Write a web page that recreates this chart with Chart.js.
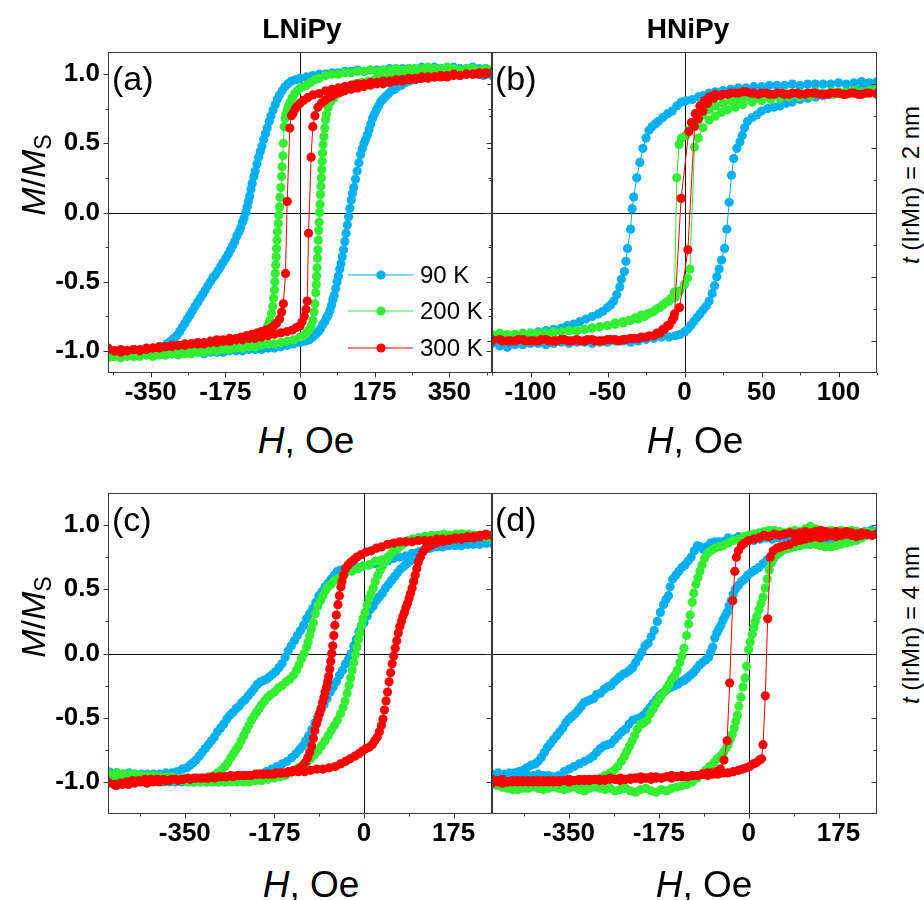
<!DOCTYPE html>
<html><head><meta charset="utf-8">
<script src="https://cdn.jsdelivr.net/npm/chart.js@4.4.0/dist/chart.umd.min.js"></script>
<style>
html,body{margin:0;padding:0;background:#fff;}
#wrap{position:relative;width:924px;height:900px;overflow:hidden;font-family:"Liberation Sans",Arial,sans-serif;color:#000;}
canvas{position:absolute;}
.t{position:absolute;white-space:nowrap;line-height:1;text-align:center;}
.r{transform:rotate(-90deg);transform-origin:50% 50%;}
sub{font-size:0.68em;vertical-align:-0.25em;font-style:normal;}
</style></head><body><div id="wrap">
<canvas id="ca" width="500" height="388" style="left:0;top:22px;width:500px;height:388px"></canvas>
<canvas id="cb" width="400" height="388" style="left:484px;top:22px;width:400px;height:388px"></canvas>
<canvas id="cc" width="500" height="388" style="left:0;top:463px;width:500px;height:388px"></canvas>
<canvas id="cd" width="400" height="388" style="left:484px;top:463px;width:400px;height:388px"></canvas>

<div class="t" style="left:202px;top:15px;width:200px;font-size:28px;font-weight:bold;">LNiPy</div>
<div class="t" style="left:588px;top:15px;width:200px;font-size:28px;font-weight:bold;">HNiPy</div>

<div class="t" style="left:112px;top:61px;font-size:34px;text-align:left;">(a)</div>
<div class="t" style="left:495px;top:61px;font-size:34px;text-align:left;">(b)</div>
<div class="t" style="left:112px;top:502px;font-size:34px;text-align:left;">(c)</div>
<div class="t" style="left:495px;top:502px;font-size:34px;text-align:left;">(d)</div>

<div class="t" style="left:156px;top:422px;width:300px;font-size:37px;"><i>H</i>, Oe</div>
<div class="t" style="left:545px;top:422px;width:300px;font-size:37px;"><i>H</i>, Oe</div>
<div class="t" style="left:161px;top:866px;width:300px;font-size:37px;"><i>H</i>, Oe</div>
<div class="t" style="left:554px;top:866px;width:300px;font-size:37px;"><i>H</i>, Oe</div>

<div class="t r" style="left:-67px;top:158px;width:200px;height:34px;font-size:34px;"><i>M</i>/<i>M</i><sub>S</sub></div>
<div class="t r" style="left:-67px;top:600px;width:200px;height:34px;font-size:34px;"><i>M</i>/<i>M</i><sub>S</sub></div>

<div class="t r" style="left:811px;top:173px;width:200px;height:24px;font-size:24px;"><i>t</i> (IrMn) = 2 nm</div>
<div class="t r" style="left:811px;top:613px;width:200px;height:24px;font-size:24px;"><i>t</i> (IrMn) = 4 nm</div>
</div>
<script>
// ---------- tick labels ----------
const xTickA = [-350, -175, 0, 175, 350];
const xMinorA = [-437.5, -262.5, -87.5, 87.5, 262.5, 437.5];
const xTickB = [-100, -50, 0, 50, 100];
const xMinorB = [-125, -75, -25, 25, 75, 125];
const xTickCD = [-350, -175, 0, 175];
const xMinorCD = [-437.5, -262.5, -87.5, 87.5];
const yTick = [-1.0, -0.5, 0.0, 0.5, 1.0];
const yTickLabels = ['-1.0', '-0.5', '0.0', '0.5', '1.0'];
const yMinor = [-0.75, -0.25, 0.25, 0.75];
const seriesLabels = ['90 K', '200 K', '300 K'];

// ---------- panel (a): LNiPy, t = 2 nm  (H, M pairs; descending then ascending branch) ----------
const a90Down = [450,1.03,435,1.04,420,1.04,405,1.05,390,1.04,375,1.04,360,1.05,345,1.04,330,1.04,315,1.05,300,1.04,285,1.05,270,1.04,255,1.04,240,1.04,225,1.03,210,1.04,195,1.03,180,1.03,165,1.03,150,1.02,135,1.03,120,1.02,105,1.02,90,1.01,75,1.01,60,1.0,45,1.0,30,0.99,15,0.98,0,0.97,-10,0.96,-20,0.95,-28,0.93,-35,0.91,-42,0.88,-48,0.85,-53,0.82,-58,0.78,-63,0.74,-68,0.70,-72,0.66,-77,0.61,-81,0.57,-85,0.53,-89,0.48,-93,0.44,-97,0.40,-101,0.35,-105,0.30,-108,0.26,-112,0.21,-115,0.17,-118,0.12,-121,0.08,-124,0.04,-127,0.0,-131,-0.04,-135,-0.07,-139,-0.11,-143,-0.14,-148,-0.17,-153,-0.21,-158,-0.24,-163,-0.27,-168,-0.30,-174,-0.33,-180,-0.36,-186,-0.39,-192,-0.42,-198,-0.45,-204,-0.47,-210,-0.50,-216,-0.53,-222,-0.56,-228,-0.59,-234,-0.62,-240,-0.65,-246,-0.68,-252,-0.71,-258,-0.74,-264,-0.77,-270,-0.80,-276,-0.83,-282,-0.86,-289,-0.89,-296,-0.91,-303,-0.93,-312,-0.95,-322,-0.97,-334,-0.98,-348,-0.99,-362,-1.0,-377,-1.0,-392,-1.01,-407,-1.0,-422,-1.01,-437,-1.01,-450,-1.01];
const a90Up = [-450,-1.02,-435,-1.03,-420,-1.02,-405,-1.02,-390,-1.03,-375,-1.02,-360,-1.03,-345,-1.02,-330,-1.02,-315,-1.03,-300,-1.02,-285,-1.02,-270,-1.02,-255,-1.02,-240,-1.01,-225,-1.02,-210,-1.01,-195,-1.01,-180,-1.01,-165,-1.0,-150,-1.0,-135,-1.0,-120,-0.99,-105,-0.99,-90,-0.99,-75,-0.98,-60,-0.98,-45,-0.97,-30,-0.96,-15,-0.95,0,-0.94,12,-0.93,22,-0.92,30,-0.90,37,-0.88,43,-0.86,48,-0.84,53,-0.81,58,-0.79,62,-0.76,66,-0.74,70,-0.71,74,-0.67,77,-0.63,80,-0.60,84,-0.55,87,-0.50,90,-0.46,93,-0.41,96,-0.37,99,-0.32,102,-0.27,105,-0.21,108,-0.15,111,-0.09,114,-0.03,117,0.03,120,0.09,123,0.14,126,0.18,130,0.24,134,0.30,138,0.36,142,0.42,146,0.46,150,0.50,154,0.53,158,0.56,162,0.60,166,0.64,170,0.68,174,0.71,179,0.74,184,0.77,189,0.80,195,0.82,201,0.84,208,0.86,214,0.88,222,0.89,230,0.91,238,0.92,247,0.94,257,0.95,268,0.97,280,0.97,295,0.98,310,0.99,325,0.99,340,0.99,355,1.0,370,1.0,385,1.0,400,1.01,415,1.0,430,0.99,450,0.99];
const a200Down = [450,1.03,435,1.04,420,1.03,405,1.04,390,1.04,375,1.03,360,1.04,345,1.05,330,1.04,315,1.04,300,1.05,285,1.04,270,1.04,255,1.04,240,1.03,225,1.04,210,1.03,195,1.03,180,1.02,165,1.03,150,1.02,135,1.02,120,1.01,105,1.01,90,1.0,75,1.0,60,0.99,45,0.97,35,0.96,25,0.94,15,0.92,8,0.91,0,0.90,-6,0.88,-12,0.86,-18,0.83,-23,0.80,-27,0.77,-30,0.74,-33,0.71,-35,0.68,-37,0.62,-39,0.50,-40,0.41,-42,0.33,-43,0.26,-45,0.18,-47,0.11,-48,0.04,-50,-0.02,-51,-0.08,-53,-0.14,-54,-0.20,-55,-0.26,-56,-0.32,-57,-0.38,-58,-0.44,-59,-0.50,-60,-0.56,-62,-0.62,-64,-0.68,-67,-0.73,-71,-0.78,-76,-0.82,-82,-0.86,-90,-0.88,-100,-0.90,-112,-0.92,-125,-0.93,-140,-0.94,-155,-0.95,-170,-0.95,-185,-0.96,-200,-0.97,-215,-0.97,-230,-0.98,-245,-0.99,-260,-0.99,-275,-1.0,-290,-1.0,-305,-1.01,-320,-1.01,-335,-1.02,-350,-1.02,-365,-1.02,-380,-1.03,-395,-1.03,-410,-1.03,-425,-1.04,-440,-1.04,-450,-1.04];
const a200Up = [-450,-1.05,-435,-1.04,-420,-1.05,-405,-1.04,-390,-1.04,-375,-1.04,-360,-1.03,-345,-1.04,-330,-1.03,-315,-1.03,-300,-1.02,-285,-1.03,-270,-1.02,-255,-1.02,-240,-1.01,-225,-1.01,-210,-1.0,-195,-1.0,-180,-0.99,-165,-0.99,-150,-0.98,-135,-0.98,-120,-0.97,-105,-0.97,-90,-0.96,-75,-0.95,-60,-0.95,-45,-0.94,-30,-0.93,-15,-0.92,0,-0.90,8,-0.89,15,-0.87,21,-0.85,26,-0.82,30,-0.78,33,-0.72,35,-0.66,37,-0.58,38,-0.52,39,-0.46,40,-0.40,41,-0.33,42,-0.27,43,-0.20,44,-0.13,45,-0.07,46,0.0,47,0.06,48,0.13,49,0.19,50,0.25,51,0.31,52,0.37,53,0.43,54,0.49,56,0.55,58,0.61,60,0.67,62,0.71,66,0.76,72,0.80,80,0.83,90,0.86,102,0.89,115,0.91,130,0.93,145,0.94,160,0.95,175,0.96,190,0.97,205,0.97,220,0.98,235,0.99,250,0.99,265,1.0,280,1.0,295,1.01,310,1.01,325,1.02,340,1.01,355,1.02,370,1.02,385,1.02,400,1.03,415,1.02,430,1.03,450,1.03];
const a300Down = [450,1.01,435,1.0,420,1.01,405,1.0,390,1.0,375,0.99,360,1.0,345,0.99,330,0.99,315,0.98,300,0.98,285,0.98,270,0.97,255,0.97,240,0.96,225,0.96,210,0.95,195,0.95,180,0.94,165,0.94,150,0.93,135,0.93,120,0.92,105,0.91,90,0.90,75,0.89,60,0.88,45,0.86,30,0.85,18,0.83,8,0.81,0,0.79,-6,0.77,-11,0.75,-16,0.72,-20,0.70,-24,0.61,-30,0.08,-34,-0.44,-39,-0.66,-43,-0.72,-48,-0.77,-55,-0.80,-62,-0.82,-70,-0.84,-80,-0.85,-90,-0.86,-100,-0.87,-112,-0.88,-125,-0.89,-138,-0.90,-150,-0.91,-165,-0.91,-180,-0.92,-195,-0.92,-210,-0.93,-225,-0.94,-240,-0.94,-255,-0.95,-270,-0.95,-285,-0.96,-300,-0.96,-315,-0.97,-330,-0.97,-345,-0.98,-360,-0.98,-375,-0.99,-390,-0.99,-405,-1.0,-420,-0.99,-435,-1.0,-450,-0.98];
const a300Up = [-450,-0.99,-435,-1.0,-420,-1.01,-405,-1.0,-390,-0.99,-375,-1.0,-360,-0.99,-345,-0.98,-330,-0.98,-315,-0.97,-300,-0.97,-285,-0.96,-270,-0.96,-255,-0.95,-240,-0.95,-225,-0.95,-210,-0.94,-195,-0.94,-180,-0.93,-165,-0.93,-150,-0.92,-135,-0.92,-120,-0.91,-105,-0.91,-90,-0.90,-75,-0.89,-60,-0.88,-45,-0.87,-30,-0.86,-18,-0.85,-8,-0.83,0,-0.82,5,-0.79,10,-0.75,14,-0.70,17,-0.64,20,-0.15,26,0.40,30,0.62,35,0.70,42,0.76,50,0.79,58,0.81,66,0.83,75,0.84,85,0.86,95,0.87,105,0.88,120,0.89,135,0.90,150,0.91,165,0.92,180,0.93,195,0.93,210,0.94,225,0.95,240,0.95,255,0.96,270,0.96,285,0.97,300,0.97,315,0.98,330,0.98,345,0.98,360,0.99,375,0.99,390,1.0,405,1.0,420,1.0,435,1.01,450,1.01];

// ---------- panel (b): HNiPy, t = 2 nm ----------
const b90Down = [125,1.02,120,1.01,115,1.02,110,1.01,105,1.0,100,1.01,95,1.0,90,1.0,85,1.0,80,1.0,75,0.99,70,1.0,65,0.99,60,0.99,55,0.99,50,0.98,45,0.98,40,0.97,35,0.97,30,0.96,25,0.95,20,0.94,16,0.93,12,0.91,9,0.90,5,0.88,1,0.87,-2,0.86,-5,0.83,-8,0.79,-11,0.77,-14,0.74,-17,0.71,-19,0.69,-21,0.67,-23,0.64,-25,0.58,-27,0.50,-29,0.39,-31,0.27,-33,0.12,-34,0.03,-35,-0.13,-37,-0.28,-38,-0.38,-39,-0.46,-41,-0.52,-42,-0.58,-44,-0.64,-46,-0.69,-48,-0.72,-50,-0.74,-53,-0.77,-56,-0.79,-60,-0.81,-64,-0.83,-68,-0.85,-72,-0.87,-76,-0.88,-80,-0.90,-85,-0.91,-90,-0.92,-95,-0.93,-100,-0.94,-105,-0.95,-110,-0.96,-115,-0.97,-120,-0.97,-125,-0.98];
const b90Up = [-125,-1.02,-120,-1.04,-115,-1.05,-110,-1.03,-105,-1.03,-100,-1.02,-95,-1.02,-90,-1.03,-85,-1.02,-80,-1.01,-75,-1.02,-70,-1.01,-65,-1.01,-60,-1.02,-55,-1.01,-50,-1.01,-45,-1.0,-40,-1.0,-35,-1.01,-30,-1.0,-25,-0.99,-20,-0.98,-15,-0.97,-10,-0.97,-6,-0.96,-3,-0.95,0,-0.93,2,-0.91,4,-0.88,6,-0.85,8,-0.82,10,-0.79,12,-0.76,14,-0.73,16,-0.69,18,-0.63,19.5,-0.57,21,-0.50,22.5,-0.44,24,-0.37,26,-0.28,27.5,-0.13,29,0.08,30.5,0.29,32,0.42,34,0.50,36,0.55,37.5,0.60,39,0.66,41,0.71,44,0.74,47,0.76,50,0.79,54,0.81,58,0.82,62,0.83,66,0.85,70,0.86,75,0.88,80,0.89,85,0.90,90,0.91,95,0.92,100,0.93,105,0.94,110,0.96,115,0.97,120,0.98,125,0.99];
const b200Down = [125,0.96,120,0.95,115,0.94,110,0.95,105,0.94,100,0.94,95,0.94,90,0.93,85,0.94,80,0.93,75,0.93,70,0.92,65,0.93,60,0.92,55,0.91,50,0.91,45,0.90,40,0.89,35,0.88,30,0.87,25,0.85,20,0.83,16,0.80,12,0.76,9,0.72,6,0.68,3,0.64,1,0.60,-2,0.58,-3.5,0.53,-5,0.27,-6.5,-0.62,-9,-0.67,-12,-0.70,-16,-0.74,-20,-0.77,-24,-0.79,-28,-0.80,-32,-0.82,-36,-0.84,-40,-0.85,-45,-0.86,-50,-0.88,-55,-0.89,-60,-0.90,-65,-0.91,-70,-0.92,-75,-0.92,-80,-0.93,-85,-0.93,-90,-0.94,-95,-0.94,-100,-0.95,-105,-0.94,-110,-0.95,-115,-0.95,-120,-0.94,-125,-0.95];
const b200Up = [-125,-0.96,-120,-0.95,-115,-0.96,-110,-0.95,-105,-0.95,-100,-0.94,-95,-0.95,-90,-0.94,-85,-0.93,-80,-0.93,-75,-0.92,-70,-0.92,-65,-0.91,-60,-0.90,-55,-0.89,-50,-0.88,-45,-0.87,-40,-0.86,-35,-0.84,-30,-0.83,-26,-0.81,-22,-0.78,-18,-0.75,-14,-0.72,-10,-0.69,-6,-0.66,-3,-0.61,0,-0.56,2,-0.51,3.5,-0.44,6.5,0.51,9,0.58,12,0.66,16,0.72,20,0.75,24,0.78,28,0.80,33,0.82,38,0.84,44,0.86,50,0.87,56,0.88,62,0.89,68,0.90,75,0.90,82,0.91,90,0.92,97,0.92,104,0.93,111,0.93,118,0.94,125,0.94];
const b300Down = [125,0.92,120,0.93,115,0.92,110,0.93,105,0.92,100,0.93,95,0.93,90,0.92,85,0.93,80,0.93,75,0.92,70,0.93,65,0.92,60,0.93,55,0.92,50,0.93,45,0.93,40,0.94,35,0.93,30,0.93,25,0.92,20,0.92,16,0.90,13,0.87,10,0.83,7,0.77,4.5,0.70,2.8,0.63,-2.2,0.11,-6.5,-0.79,-8,-0.84,-11,-0.88,-14,-0.91,-18,-0.94,-23,-0.96,-28,-0.97,-33,-0.98,-38,-0.99,-43,-1.0,-48,-0.99,-53,-1.0,-58,-1.0,-63,-0.99,-68,-1.0,-73,-1.0,-78,-0.99,-83,-1.0,-88,-1.0,-93,-0.99,-98,-1.0,-103,-1.0,-108,-0.99,-113,-1.0,-118,-1.0,-125,-0.99];
const b300Up = [-125,-1.0,-120,-0.99,-115,-1.0,-110,-1.0,-105,-0.99,-100,-1.0,-95,-1.0,-90,-0.99,-85,-1.0,-80,-0.99,-75,-1.0,-70,-0.99,-65,-1.0,-60,-0.99,-55,-1.0,-50,-0.99,-45,-0.99,-40,-0.99,-35,-0.98,-30,-0.98,-25,-0.97,-20,-0.96,-16,-0.94,-13,-0.91,-10,-0.88,-7,-0.82,-3.2,-0.74,2.2,-0.29,6.5,0.67,9,0.73,12,0.79,15,0.85,19,0.89,23,0.91,28,0.92,33,0.93,38,0.94,43,0.93,48,0.92,53,0.93,58,0.92,63,0.93,68,0.92,73,0.93,78,0.92,83,0.93,88,0.92,93,0.92,98,0.93,103,0.92,108,0.93,113,0.92,118,0.93,125,0.93];

// ---------- panel (c): LNiPy, t = 4 nm ----------
const c90Down = [250,0.86,238,0.86,226,0.85,214,0.85,202,0.85,190,0.84,178,0.84,166,0.84,154,0.83,142,0.83,130,0.82,118,0.81,106,0.79,94,0.78,82,0.76,70,0.75,58,0.74,46,0.72,34,0.71,22,0.70,10,0.69,-2,0.68,-14,0.67,-26,0.67,-38,0.66,-46,0.65,-52,0.64,-58,0.61,-64,0.58,-70,0.55,-76,0.52,-82,0.48,-88,0.45,-94,0.40,-100,0.35,-106,0.31,-112,0.27,-118,0.22,-124,0.18,-130,0.14,-136,0.10,-142,0.06,-148,0.02,-154,-0.03,-160,-0.08,-166,-0.11,-172,-0.14,-178,-0.16,-184,-0.18,-190,-0.20,-196,-0.21,-202,-0.22,-208,-0.24,-214,-0.27,-220,-0.30,-226,-0.33,-232,-0.36,-238,-0.38,-244,-0.41,-250,-0.43,-256,-0.46,-262,-0.48,-268,-0.51,-274,-0.55,-280,-0.58,-286,-0.61,-292,-0.65,-298,-0.68,-304,-0.71,-310,-0.74,-316,-0.77,-322,-0.80,-328,-0.83,-334,-0.85,-340,-0.87,-346,-0.89,-355,-0.90,-365,-0.92,-375,-0.93,-387,-0.93,-399,-0.94,-411,-0.94,-423,-0.94,-435,-0.94,-447,-0.94,-459,-0.93,-471,-0.94,-483,-0.93,-495,-0.93,-500,-0.92];
const c90Up = [-500,-0.94,-488,-0.95,-476,-0.96,-464,-0.97,-452,-0.98,-440,-0.98,-428,-0.99,-416,-0.99,-404,-0.99,-392,-1.0,-380,-1.0,-368,-1.0,-356,-1.0,-344,-1.0,-332,-1.0,-320,-1.0,-308,-1.0,-296,-1.0,-284,-1.0,-272,-1.0,-260,-0.99,-248,-0.99,-236,-0.98,-224,-0.97,-213,-0.96,-202,-0.94,-191,-0.92,-180,-0.90,-170,-0.88,-160,-0.86,-150,-0.84,-141,-0.81,-133,-0.78,-126,-0.75,-120,-0.72,-114,-0.68,-108,-0.64,-102,-0.59,-96,-0.54,-90,-0.49,-84,-0.44,-78,-0.40,-72,-0.35,-66,-0.30,-60,-0.26,-54,-0.22,-48,-0.17,-42,-0.13,-36,-0.08,-30,-0.04,-25,0.0,-20,0.06,-15,0.11,-10,0.17,-5,0.21,0,0.24,6,0.29,12,0.34,18,0.37,24,0.41,30,0.44,36,0.47,42,0.51,48,0.54,54,0.57,60,0.60,66,0.63,72,0.66,78,0.68,84,0.70,90,0.72,96,0.74,102,0.77,108,0.79,114,0.80,120,0.81,126,0.82,134,0.83,144,0.84,156,0.84,168,0.85,180,0.85,192,0.85,204,0.85,216,0.86,228,0.86,240,0.86,250,0.86];
const c200Down = [250,0.90,238,0.91,226,0.92,214,0.92,202,0.92,190,0.93,178,0.92,166,0.92,154,0.92,142,0.91,130,0.91,118,0.91,106,0.90,94,0.89,82,0.87,70,0.85,58,0.80,46,0.75,34,0.73,22,0.72,10,0.69,-2,0.68,-12,0.66,-24,0.64,-38,0.62,-48,0.59,-57,0.57,-64,0.54,-70,0.52,-75,0.49,-80,0.45,-85,0.41,-90,0.37,-95,0.31,-99,0.24,-103,0.19,-106,0.14,-109,0.09,-112,0.05,-117,0.0,-122,-0.04,-127,-0.09,-132,-0.13,-138,-0.17,-145,-0.20,-152,-0.22,-160,-0.25,-168,-0.27,-175,-0.30,-182,-0.32,-188,-0.34,-194,-0.37,-200,-0.40,-205,-0.43,-210,-0.46,-215,-0.49,-220,-0.52,-225,-0.56,-230,-0.60,-235,-0.64,-240,-0.68,-245,-0.72,-250,-0.75,-255,-0.78,-260,-0.81,-266,-0.85,-272,-0.88,-279,-0.91,-286,-0.93,-294,-0.95,-303,-0.96,-315,-0.97,-327,-0.98,-339,-0.98,-351,-0.97,-363,-0.97,-375,-0.96,-387,-0.96,-399,-0.96,-411,-0.95,-423,-0.95,-435,-0.95,-447,-0.94,-459,-0.94,-471,-0.94,-483,-0.93,-500,-0.93];
const c200Up = [-500,-0.96,-488,-0.97,-476,-0.97,-464,-0.98,-452,-0.98,-440,-0.98,-428,-0.98,-416,-0.99,-404,-0.99,-392,-0.99,-380,-0.99,-368,-0.99,-356,-0.99,-344,-1.0,-332,-1.0,-320,-1.0,-308,-1.0,-296,-1.0,-284,-1.0,-272,-1.0,-260,-1.0,-248,-1.0,-236,-1.0,-224,-1.0,-212,-0.99,-200,-0.99,-188,-0.98,-176,-0.97,-164,-0.96,-154,-0.95,-145,-0.93,-136,-0.91,-128,-0.89,-120,-0.87,-112,-0.85,-104,-0.82,-97,-0.79,-90,-0.76,-83,-0.72,-76,-0.68,-70,-0.64,-64,-0.60,-58,-0.56,-52,-0.52,-46,-0.47,-41,-0.42,-37,-0.37,-33,-0.31,-29,-0.25,-26,-0.19,-23,-0.13,-20,-0.07,-17,-0.01,-14,0.05,-11,0.11,-8,0.16,-5,0.22,-2,0.27,2,0.32,6,0.38,10,0.43,14,0.47,18,0.51,22,0.56,27,0.61,32,0.65,37,0.69,42,0.72,48,0.75,54,0.78,60,0.80,66,0.82,72,0.84,78,0.86,86,0.88,96,0.89,108,0.90,120,0.91,132,0.92,144,0.92,156,0.93,168,0.92,180,0.93,192,0.93,204,0.93,216,0.92,228,0.92,240,0.91,250,0.91];
const c300Down = [250,0.92,238,0.93,226,0.92,214,0.91,202,0.91,190,0.90,178,0.90,166,0.89,154,0.89,142,0.89,130,0.88,118,0.88,106,0.88,94,0.87,82,0.87,70,0.87,58,0.86,46,0.85,34,0.83,24,0.82,14,0.80,4,0.79,-6,0.77,-14,0.75,-20,0.73,-26,0.71,-31,0.69,-36,0.66,-40,0.61,-43,0.56,-45,0.52,-48,0.45,-51,0.38,-54,0.30,-57,0.22,-59,0.14,-61,0.06,-63,0.0,-65,-0.06,-67,-0.12,-69,-0.18,-71,-0.22,-73,-0.26,-76,-0.30,-78,-0.34,-81,-0.38,-84,-0.43,-87,-0.47,-90,-0.51,-93,-0.55,-96,-0.60,-99,-0.66,-102,-0.72,-106,-0.77,-110,-0.81,-115,-0.85,-121,-0.88,-128,-0.90,-137,-0.91,-148,-0.92,-160,-0.93,-172,-0.93,-184,-0.94,-196,-0.94,-208,-0.94,-220,-0.95,-232,-0.95,-244,-0.95,-256,-0.96,-268,-0.96,-280,-0.96,-292,-0.97,-304,-0.97,-316,-0.97,-328,-0.97,-340,-0.98,-352,-0.98,-364,-0.99,-376,-0.98,-388,-0.99,-400,-1.0,-412,-1.0,-424,-1.01,-436,-1.0,-448,-1.01,-460,-1.02,-472,-1.02,-484,-1.03,-500,-1.0];
const c300Up = [-500,-1.01,-488,-1.02,-476,-1.01,-464,-1.0,-452,-0.99,-440,-0.99,-428,-0.98,-416,-0.98,-404,-0.98,-392,-0.98,-380,-0.99,-368,-0.98,-356,-0.98,-344,-0.97,-332,-0.97,-320,-0.97,-308,-0.97,-296,-0.96,-284,-0.96,-272,-0.96,-260,-0.95,-248,-0.95,-236,-0.95,-224,-0.95,-212,-0.94,-200,-0.94,-188,-0.94,-176,-0.94,-164,-0.93,-152,-0.93,-140,-0.92,-128,-0.92,-116,-0.92,-104,-0.91,-92,-0.90,-80,-0.90,-68,-0.89,-56,-0.88,-46,-0.86,-36,-0.84,-27,-0.82,-18,-0.80,-10,-0.78,-3,-0.76,4,-0.74,10,-0.73,16,-0.71,21,-0.68,26,-0.65,30,-0.61,34,-0.56,37,-0.51,40,-0.44,43,-0.37,46,-0.30,49,-0.22,52,-0.15,55,-0.08,58,-0.02,61,0.04,64,0.10,67,0.16,70,0.21,73,0.25,76,0.29,79,0.32,82,0.36,85,0.39,88,0.43,91,0.47,94,0.51,97,0.56,100,0.61,103,0.66,106,0.71,110,0.75,115,0.79,121,0.82,130,0.84,142,0.86,154,0.87,166,0.88,178,0.89,190,0.89,202,0.90,214,0.90,226,0.91,238,0.92,250,0.92];

// ---------- panel (d): HNiPy, t = 4 nm ----------
const d90Down = [250,0.95,238,0.96,226,0.95,214,0.94,202,0.95,190,0.94,178,0.94,166,0.93,154,0.93,142,0.92,130,0.93,118,0.92,106,0.91,94,0.91,82,0.90,70,0.91,58,0.90,46,0.89,34,0.90,22,0.89,10,0.88,0,0.88,-10,0.90,-20,0.91,-30,0.89,-40,0.90,-50,0.87,-58,0.87,-66,0.87,-74,0.86,-82,0.83,-88,0.81,-94,0.83,-100,0.84,-106,0.80,-112,0.75,-118,0.72,-124,0.69,-130,0.67,-136,0.64,-142,0.61,-148,0.58,-153,0.52,-156,0.45,-161,0.42,-166,0.38,-172,0.32,-178,0.25,-184,0.18,-190,0.13,-196,0.08,-202,0.06,-208,0.01,-214,-0.03,-220,-0.07,-226,-0.11,-232,-0.13,-238,-0.15,-244,-0.16,-250,-0.18,-256,-0.20,-262,-0.22,-268,-0.25,-275,-0.26,-282,-0.28,-289,-0.31,-296,-0.32,-302,-0.35,-308,-0.36,-314,-0.37,-320,-0.38,-326,-0.41,-332,-0.44,-338,-0.47,-344,-0.49,-350,-0.51,-356,-0.54,-362,-0.58,-368,-0.61,-374,-0.64,-380,-0.67,-386,-0.70,-392,-0.73,-398,-0.77,-404,-0.81,-410,-0.84,-416,-0.86,-424,-0.87,-432,-0.89,-440,-0.91,-448,-0.92,-456,-0.93,-466,-0.93,-476,-0.94,-488,-0.93,-500,-0.94];
const d90Up = [-500,-0.97,-490,-0.96,-480,-0.96,-470,-0.95,-460,-0.96,-450,-0.95,-440,-0.95,-430,-0.95,-420,-0.95,-410,-0.94,-400,-0.95,-390,-0.95,-380,-0.96,-370,-0.95,-360,-0.92,-350,-0.90,-340,-0.88,-330,-0.86,-320,-0.84,-310,-0.82,-303,-0.80,-296,-0.77,-289,-0.74,-282,-0.72,-275,-0.71,-268,-0.70,-261,-0.67,-254,-0.64,-247,-0.61,-240,-0.59,-233,-0.55,-226,-0.52,-219,-0.51,-212,-0.50,-205,-0.48,-198,-0.45,-192,-0.42,-186,-0.39,-180,-0.36,-174,-0.33,-168,-0.31,-162,-0.29,-156,-0.27,-150,-0.26,-144,-0.25,-138,-0.24,-132,-0.22,-126,-0.21,-120,-0.19,-114,-0.17,-108,-0.15,-102,-0.12,-96,-0.09,-90,-0.07,-84,-0.05,-78,-0.03,-74,0.01,-70,0.05,-66,0.12,-62,0.16,-58,0.19,-54,0.22,-50,0.26,-46,0.29,-42,0.32,-38,0.37,-34,0.41,-30,0.46,-26,0.50,-20,0.53,-14,0.56,-8,0.58,-2,0.61,5,0.63,12,0.65,20,0.67,28,0.70,36,0.73,44,0.76,52,0.78,60,0.80,70,0.82,80,0.83,90,0.84,100,0.84,110,0.85,120,0.85,130,0.86,140,0.86,150,0.87,160,0.87,170,0.88,180,0.89,190,0.90,200,0.90,210,0.91,220,0.92,230,0.93,240,0.94,250,0.95];
const d200Down = [250,0.93,240,0.94,230,0.95,220,0.94,210,0.95,200,0.96,190,0.95,180,0.96,170,0.95,160,0.96,150,0.95,140,0.96,130,0.97,120,0.99,110,0.97,100,0.95,90,0.96,80,0.95,70,0.94,60,0.95,50,0.96,40,0.96,30,0.95,20,0.94,10,0.93,0,0.92,-10,0.91,-20,0.89,-30,0.88,-40,0.86,-50,0.84,-58,0.83,-66,0.82,-74,0.80,-80,0.78,-86,0.74,-91,0.69,-95,0.64,-99,0.59,-103,0.54,-107,0.47,-110,0.40,-114,0.30,-117,0.23,-121,0.14,-126,0.04,-130,-0.02,-134,-0.07,-139,-0.13,-144,-0.17,-150,-0.20,-155,-0.24,-160,-0.27,-165,-0.30,-170,-0.33,-175,-0.36,-180,-0.39,-186,-0.43,-192,-0.47,-198,-0.52,-204,-0.54,-210,-0.55,-217,-0.59,-222,-0.64,-227,-0.68,-232,-0.72,-237,-0.76,-242,-0.80,-248,-0.84,-255,-0.88,-262,-0.91,-270,-0.93,-280,-0.95,-290,-0.97,-300,-0.99,-310,-1.01,-320,-1.0,-330,-1.02,-340,-1.01,-350,-1.02,-360,-1.03,-370,-1.02,-380,-1.03,-390,-1.02,-400,-1.03,-410,-1.02,-420,-1.03,-430,-1.04,-440,-1.05,-450,-1.06,-460,-1.04,-470,-1.02,-480,-1.01,-490,-1.0,-500,-1.01];
const d200Up = [-500,-1.02,-490,-1.03,-480,-1.04,-470,-1.05,-460,-1.06,-450,-1.05,-440,-1.04,-430,-1.05,-420,-1.04,-410,-1.05,-400,-1.06,-390,-1.05,-380,-1.04,-370,-1.05,-360,-1.06,-350,-1.05,-340,-1.04,-330,-1.06,-320,-1.07,-310,-1.05,-300,-1.04,-290,-1.05,-280,-1.06,-270,-1.05,-260,-1.07,-250,-1.06,-240,-1.05,-230,-1.07,-220,-1.08,-210,-1.06,-200,-1.05,-190,-1.07,-180,-1.08,-170,-1.06,-160,-1.07,-150,-1.05,-140,-1.04,-130,-1.03,-120,-1.02,-110,-1.0,-100,-0.97,-92,-0.94,-84,-0.91,-76,-0.88,-68,-0.85,-61,-0.82,-55,-0.80,-49,-0.77,-44,-0.74,-40,-0.71,-36,-0.67,-32,-0.63,-28,-0.58,-25,-0.53,-22,-0.48,-19,-0.41,-15,-0.34,-11,-0.26,-7,-0.19,-4,-0.10,0,0.03,3,0.09,7,0.15,10,0.20,13,0.25,16,0.29,20,0.34,24,0.39,28,0.44,32,0.51,36,0.58,40,0.65,44,0.70,49,0.74,55,0.77,62,0.79,70,0.81,80,0.82,90,0.83,100,0.84,110,0.85,120,0.86,130,0.85,140,0.84,150,0.83,160,0.83,170,0.84,180,0.85,190,0.86,200,0.87,210,0.88,220,0.90,230,0.92,240,0.93,250,0.94];
const d300Down = [250,0.93,240,0.92,230,0.93,220,0.94,210,0.93,200,0.94,190,0.95,180,0.94,170,0.95,160,0.94,150,0.95,140,0.96,130,0.95,120,0.94,110,0.95,100,0.94,90,0.93,80,0.94,70,0.93,60,0.92,50,0.93,40,0.91,30,0.92,20,0.90,10,0.89,0,0.88,-8,0.86,-14,0.84,-20,0.80,-24,0.75,-27,0.64,-31,0.41,-37,-0.23,-42,-0.68,-48,-0.83,-55,-0.90,-63,-0.92,-72,-0.93,-81,-0.93,-90,-0.94,-100,-0.95,-110,-0.95,-120,-0.96,-130,-0.96,-140,-0.96,-150,-0.97,-160,-0.96,-170,-0.97,-180,-0.97,-190,-0.98,-200,-0.97,-210,-0.98,-220,-0.97,-230,-0.98,-240,-0.98,-250,-0.99,-260,-0.98,-270,-0.98,-280,-0.99,-290,-0.98,-300,-0.98,-310,-0.99,-320,-0.98,-330,-0.99,-340,-0.99,-350,-1.0,-360,-0.99,-370,-0.99,-380,-1.0,-390,-0.99,-400,-1.0,-410,-1.0,-420,-0.99,-430,-1.0,-440,-0.99,-450,-1.0,-460,-0.99,-470,-1.0,-480,-0.98,-490,-0.99,-500,-0.98];
const d300Up = [-500,-1.01,-490,-1.0,-480,-1.01,-470,-1.0,-460,-1.0,-450,-0.99,-440,-1.0,-430,-0.99,-420,-1.0,-410,-0.99,-400,-0.99,-390,-1.0,-380,-0.99,-370,-1.0,-360,-0.99,-350,-0.98,-340,-0.99,-330,-0.98,-320,-0.99,-310,-0.98,-300,-0.98,-290,-0.99,-280,-0.98,-270,-0.97,-260,-0.98,-250,-0.97,-240,-0.98,-230,-0.97,-220,-0.97,-210,-0.96,-200,-0.97,-190,-0.96,-180,-0.96,-170,-0.97,-160,-0.96,-150,-0.95,-140,-0.96,-130,-0.95,-120,-0.96,-110,-0.95,-100,-0.95,-90,-0.94,-80,-0.95,-70,-0.94,-60,-0.94,-50,-0.93,-40,-0.93,-30,-0.92,-20,-0.91,-12,-0.90,-5,-0.89,2,-0.88,9,-0.86,15,-0.85,21,-0.83,25,-0.82,28,-0.71,32.4,-0.33,37,0.27,42,0.75,48,0.80,55,0.82,62,0.83,70,0.84,80,0.85,90,0.87,100,0.88,110,0.89,120,0.90,130,0.91,140,0.90,150,0.91,160,0.92,170,0.91,180,0.92,190,0.93,200,0.92,210,0.91,220,0.92,230,0.93,240,0.92,250,0.93];

// ---------- styling ----------
const seriesColors = ['#00b0f0', '#33ee33', '#ff0000'];
const FONT = '"Liberation Sans", Arial, sans-serif';

function pairs(down, up) {
  const out = [];
  const all = down.concat(up);
  for (let i = 0; i < all.length; i += 2) out.push({x: all[i], y: all[i + 1]});
  return out;
}

function frame(cfg) {
  return {
    id: 'frame',
    beforeDatasetsDraw(chart) {
      const {ctx, chartArea: a, scales: {x, y}} = chart;
      ctx.save();
      ctx.strokeStyle = '#111';
      ctx.lineWidth = 1;
      const x0 = Math.round(x.getPixelForValue(0)) + 0.5;
      const y0 = Math.round(y.getPixelForValue(0)) + 0.5;
      ctx.beginPath();
      ctx.moveTo(x0, a.top); ctx.lineTo(x0, a.bottom);
      ctx.moveTo(a.left, y0); ctx.lineTo(a.right, y0);
      ctx.stroke();
      ctx.restore();
    },
    afterDraw(chart) {
      const {ctx, chartArea: a, scales: {x, y}} = chart;
      ctx.save();
      ctx.strokeStyle = '#3a3a3a';
      ctx.lineWidth = 1;
      const L = Math.round(a.left) + 0.5, R = Math.round(a.right) - 0.5;
      const T = Math.round(a.top) + 0.5, B = Math.round(a.bottom) - 0.5;
      ctx.strokeRect(L, T, R - L, B - T);
      ctx.beginPath();
      const xt = cfg.xMajor.map(v => [v, 5]).concat(cfg.xMinor.map(v => [v, 3]));
      xt.forEach(([v, len]) => {
        const px = Math.round(x.getPixelForValue(v)) + 0.5;
        ctx.moveTo(px, B); ctx.lineTo(px, B + len);
      });
      const yt = yTick.map(v => [v, 5]).concat(yMinor.map(v => [v, 3]));
      yt.forEach(([v, len]) => {
        const py = Math.round(y.getPixelForValue(v)) + 0.5;
        ctx.moveTo(L - len, py); ctx.lineTo(L, py);
        ctx.moveTo(R - len, py); ctx.lineTo(R, py);
      });
      ctx.stroke();
      if (cfg.legend) {
        const ys = [275, 311, 348];
        ctx.font = '24px ' + FONT;
        ctx.textBaseline = 'middle';
        ctx.textAlign = 'left';
        seriesLabels.forEach((lab, i) => {
          const yy = ys[i] - cfg.top;
          ctx.strokeStyle = seriesColors[i];
          ctx.lineWidth = 1.2;
          ctx.beginPath(); ctx.moveTo(348, yy); ctx.lineTo(413, yy); ctx.stroke();
          ctx.fillStyle = seriesColors[i];
          ctx.beginPath(); ctx.arc(381, yy, 4.6, 0, Math.PI * 2); ctx.fill();
          ctx.fillStyle = '#000';
          ctx.fillText(lab, 420, yy + 1);
        });
      }
      ctx.restore();
    }
  };
}

function makeChart(id, cfg) {
  const sets = [
    {label: seriesLabels[2], data: pairs(cfg.s300[0], cfg.s300[1]), color: seriesColors[2]},
    {label: seriesLabels[1], data: pairs(cfg.s200[0], cfg.s200[1]), color: seriesColors[1]},
    {label: seriesLabels[0], data: pairs(cfg.s90[0], cfg.s90[1]), color: seriesColors[0]}
  ].map(s => ({
    label: s.label, data: s.data, showLine: true,
    borderColor: s.color, backgroundColor: s.color,
    borderWidth: 1, pointRadius: 4.6, pointBorderWidth: 0,
    pointBackgroundColor: s.color, pointHoverRadius: 4.6, tension: 0
  }));
  const tickFont = {family: FONT, size: 26, weight: 'bold'};
  return new Chart(document.getElementById(id), {
    type: 'scatter',
    data: {datasets: sets},
    options: {
      responsive: false, animation: false, devicePixelRatio: 1,
      events: [],
      layout: {padding: {left: cfg.showY ? 0 : 8, top: 30, right: cfg.padRight, bottom: 0}},
      plugins: {legend: {display: false}, tooltip: {enabled: false}},
      scales: {
        x: {
          type: 'linear', min: cfg.xMin, max: cfg.xMax,
          afterBuildTicks: s => { s.ticks = cfg.xMajor.concat(cfg.xMinor).sort((p, q) => p - q).map(v => ({value: v})); },
          afterFit: s => { s.height = 37; },
          grid: {display: false, drawTicks: false},
          border: {display: false},
          ticks: {autoSkip: false, maxRotation: 0, minRotation: 0, padding: 4, color: '#000', font: tickFont,
                  callback: v => cfg.xMajor.includes(v) ? String(v) : ''}
        },
        y: {
          type: 'linear', min: cfg.yMin, max: cfg.yMax, display: cfg.showY,
          afterBuildTicks: s => { s.ticks = yTick.concat(yMinor).sort((p, q) => p - q).map(v => ({value: v})); },
          afterFit: s => { s.width = cfg.showY ? 108 : 0; },
          grid: {display: false, drawTicks: false},
          border: {display: false},
          ticks: {autoSkip: false, padding: 8, color: '#000', font: tickFont,
                  callback: v => { const i = yTick.indexOf(v); return i >= 0 ? yTickLabels[i] : ''; }}
        }
      }
    },
    plugins: [frame(cfg)]
  });
}

makeChart('ca', {s90: [a90Down, a90Up], s200: [a200Down, a200Up], s300: [a300Down, a300Up], top: 22,
  xMin: -450, xMax: 450, yMin: -1.16, yMax: 1.16, xMajor: xTickA, xMinor: xMinorA, showY: true, padRight: 8, legend: true});
makeChart('cb', {s90: [b90Down, b90Up], s200: [b200Down, b200Up], s300: [b300Down, b300Up], top: 22,
  xMin: -125, xMax: 125, yMin: -1.25, yMax: 1.25, xMajor: xTickB, xMinor: xMinorB, showY: false, padRight: 7});
makeChart('cc', {s90: [c90Down, c90Up], s200: [c200Down, c200Up], s300: [c300Down, c300Up], top: 463,
  xMin: -500, xMax: 250, yMin: -1.25, yMax: 1.25, xMajor: xTickCD, xMinor: xMinorCD, showY: true, padRight: 8});
makeChart('cd', {s90: [d90Down, d90Up], s200: [d200Down, d200Up], s300: [d300Down, d300Up], top: 463,
  xMin: -500, xMax: 250, yMin: -1.25, yMax: 1.25, xMajor: xTickCD, xMinor: xMinorCD, showY: false, padRight: 7});
</script>
</body></html>
